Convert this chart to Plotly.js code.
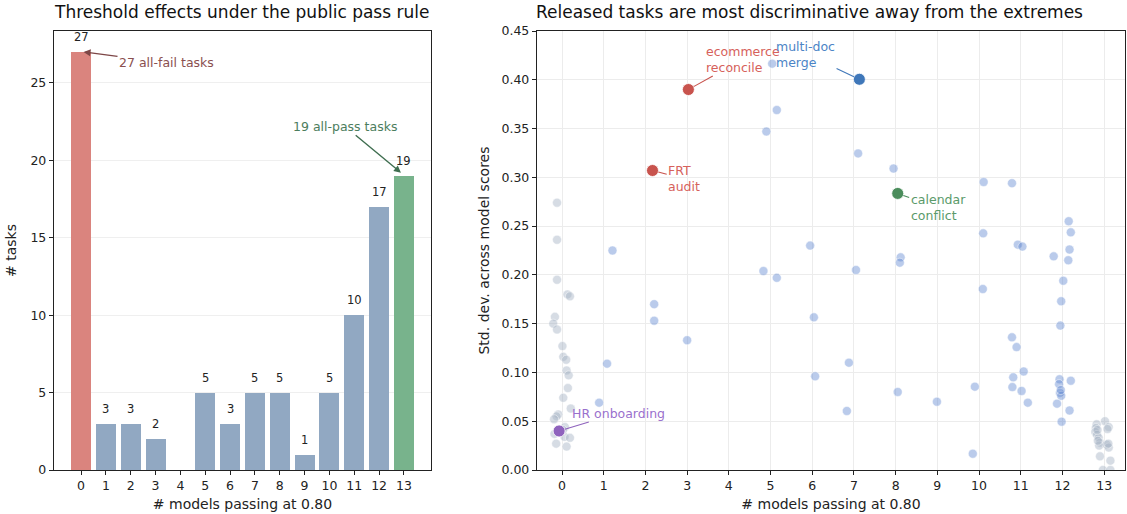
<!DOCTYPE html>
<html>
<head>
<meta charset="utf-8">
<script src="https://cdn.plot.ly/plotly-3.0.1.min.js"></script>
<style>
  html, body { margin: 0; padding: 0; background: #ffffff; }
  #chart { width: 1127px; height: 514px; }
</style>
</head>
<body>
<div id="chart"></div>
<script>
// ---------- Data ----------
const passCounts = [0, 1, 2, 3, 4, 5, 6, 7, 8, 9, 10, 11, 12, 13];
const taskCounts = [27, 3, 3, 2, 0, 5, 3, 5, 5, 1, 5, 10, 17, 19];

// all-fail tasks (x jittered around 0), excluding the highlighted one
const failX = [-0.12, -0.12, -0.12, 0.13, 0.19, -0.17, -0.21, -0.12, 0.01, 0.03, 0.10, 0.11, 0.16,
               0.14, 0.03, 0.21, -0.09, -0.13, -0.19, -0.18, 0.07, 0.06, 0.19, -0.14, 0.11, 0.02];
const failY = [0.274, 0.236, 0.195, 0.180, 0.178, 0.157, 0.150, 0.144, 0.127, 0.116, 0.113, 0.102, 0.097,
               0.084, 0.074, 0.063, 0.057, 0.055, 0.052, 0.037, 0.044, 0.034, 0.033, 0.027, 0.024, 0.041];

// all-pass tasks (x jittered around 13)
const passX = [13.02, 12.82, 12.80, 13.11, 13.08, 12.79, 12.83, 12.87, 12.90, 12.88, 13.06, 13.11,
               12.90, 13.15, 12.97, 13.15, 12.85, 13.10, 12.84];
const passY = [0.050, 0.047, 0.043, 0.044, 0.042, 0.039, 0.036, 0.033, 0.028, 0.025, 0.026, 0.023,
               0.014, 0.0096, 0.000, 0.000, 0.030, 0.027, 0.041];

// released (discriminative) tasks, excluding highlighted ones
const midX = [0.89, 1.08, 1.21,
              2.21, 2.21,
              3.00,
              4.83, 5.15, 5.04, 5.15, 4.90,
              6.04, 6.07, 5.95,
              7.10, 7.05, 6.88, 6.83,
              7.95, 8.12, 8.10, 8.05,
              8.99,
              10.11, 10.10, 10.09, 9.90, 9.85,
              10.79, 10.93, 11.04, 10.79, 10.90, 11.07, 10.82, 10.80, 11.02, 11.17,
              12.15, 12.20, 12.17, 11.79, 12.14, 12.02, 11.97, 11.95, 11.93, 11.92, 12.20, 11.94, 11.97, 11.96, 11.87, 12.17, 11.98];
const midY = [0.069, 0.109, 0.225,
              0.170, 0.153,
              0.133,
              0.204, 0.197, 0.4165, 0.369, 0.347,
              0.1565, 0.096, 0.230,
              0.3245, 0.205, 0.110, 0.0605,
              0.309, 0.218, 0.2125, 0.080,
              0.070,
              0.2952, 0.2426, 0.1855, 0.0854, 0.0167,
              0.294, 0.231, 0.229, 0.136, 0.126, 0.101, 0.095, 0.085, 0.081, 0.069,
              0.255, 0.2436, 0.226, 0.219, 0.215, 0.194, 0.173, 0.148, 0.093, 0.088, 0.0915, 0.079, 0.076, 0.082, 0.068, 0.061, 0.0495];

// highlighted tasks
const hlNames = ["ecommerce<br>reconcile", "multi-doc<br>merge", "FRT<br>audit", "calendar<br>conflict", "HR onboarding"];
const hlX = [3.03, 7.13, 2.17, 8.05, -0.07];
const hlY = [0.390, 0.4005, 0.307, 0.2835, 0.040];

// ---------- Styles ----------
const FONT = "DejaVu Sans, Verdana, sans-serif";
const barColors = taskCounts.map((v, i) => i === 0 ? "#da847e" : (i === 13 ? "#78b38c" : "#91a8c2"));
const hlMarker = ["#c8534d", "#3f77b9", "#c8534d", "#4b8d5c", "#8f63bd"];
const hlText   = ["#d6615b", "#4b84c6", "#d6615b", "#5a9a6a", "#9a70cd"];
const hlLabelPos = [[4.35, 0.4213], [5.84, 0.4264], [2.93, 0.2983], [9.02, 0.2686], [1.36, 0.0584]];

const traces = [
  {
    type: "bar", x: passCounts, y: taskCounts, width: 0.8,
    marker: { color: barColors, line: { width: 0 } },
    xaxis: "x", yaxis: "y", hoverinfo: "x+y", showlegend: false
  },
  {
    type: "scatter", mode: "markers", x: failX, y: failY, xaxis: "x2", yaxis: "y2",
    marker: { size: 9, color: "rgba(165,177,195,0.45)", line: { color: "rgba(255,255,255,0.8)", width: 0.6 } },
    showlegend: false
  },
  {
    type: "scatter", mode: "markers", x: passX, y: passY, xaxis: "x2", yaxis: "y2",
    marker: { size: 9, color: "rgba(165,177,195,0.45)", line: { color: "rgba(255,255,255,0.8)", width: 0.6 } },
    showlegend: false
  },
  {
    type: "scatter", mode: "markers", x: midX, y: midY, xaxis: "x2", yaxis: "y2",
    marker: { size: 9, color: "rgba(90,132,208,0.42)", line: { color: "rgba(255,255,255,0.8)", width: 0.6 } },
    showlegend: false
  },
  {
    type: "scatter", mode: "markers", x: hlX, y: hlY, xaxis: "x2", yaxis: "y2",
    marker: { size: 12, color: hlMarker, line: { color: "#ffffff", width: 0.8 } },
    showlegend: false
  }
];

const annotations = [];
// bar value labels
passCounts.forEach((c, i) => {
  if (taskCounts[i] > 0) {
    annotations.push({
      x: c, y: taskCounts[i], xref: "x", yref: "y", text: String(taskCounts[i]),
      showarrow: false, yanchor: "middle", yshift: 15,
      font: { family: FONT, size: 11.5, color: "#222" }
    });
  }
});
// left-panel callouts
annotations.push({
  x: 0.1, y: 27, xref: "x", yref: "y", ax: 3.44, ay: 26.3, axref: "x", ayref: "y",
  text: taskCounts[0] + " all-fail tasks", showarrow: true, arrowhead: 2, arrowsize: 1, arrowwidth: 1.4,
  arrowcolor: "#7d4646", standoff: 0, startstandoff: 0,
  font: { family: FONT, size: 12.5, color: "#8a4f4f" }
});
annotations.push({
  x: 12.88, y: 19.2, xref: "x", yref: "y", ax: 10.62, ay: 22.2, axref: "x", ayref: "y",
  text: taskCounts[13] + " all-pass tasks", showarrow: true, arrowhead: 2, arrowsize: 1, arrowwidth: 1.4,
  arrowcolor: "#3f6e50", standoff: 0,
  font: { family: FONT, size: 12.5, color: "#4c7d5d" }
});
// right-panel callouts
hlNames.forEach((n, i) => {
  annotations.push({
    x: hlX[i], y: hlY[i], xref: "x2", yref: "y2",
    ax: hlLabelPos[i][0], ay: hlLabelPos[i][1], axref: "x2", ayref: "y2",
    text: n, align: "left", showarrow: true, arrowhead: 0, arrowwidth: 1.1,
    arrowcolor: hlMarker[i], standoff: 6,
    font: { family: FONT, size: 12.5, color: hlText[i] }
  });
});
// panel titles
annotations.push({
  xref: "x domain", yref: "paper", x: 0.497, y: 1, yanchor: "bottom", yshift: 7, showarrow: false,
  text: "Threshold effects under the public pass rule", font: { family: FONT, size: 17, color: "#111" }
});
annotations.push({
  xref: "x2 domain", yref: "paper", x: 0.464, y: 1, yanchor: "bottom", yshift: 7, showarrow: false,
  text: "Released tasks are most discriminative away from the extremes", font: { family: FONT, size: 17, color: "#111" }
});

const axisCommon = {
  showline: true, linecolor: "#222", linewidth: 1.2, mirror: true,
  ticks: "outside", ticklen: 4, tickwidth: 1, tickcolor: "#222",
  tickfont: { family: FONT, size: 12.5, color: "#222" },
  zeroline: false
};

const layout = {
  width: 1127, height: 514,
  margin: { l: 0, r: 0, t: 31, b: 44 },
  paper_bgcolor: "#ffffff", plot_bgcolor: "#ffffff",
  font: { family: FONT, color: "#222" },
  showlegend: false,
  bargap: 0,
  xaxis: Object.assign({}, axisCommon, {
    domain: [54 / 1127, 431 / 1127], range: [-1.09, 14.09],
    tickmode: "array", tickvals: passCounts, ticktext: passCounts.map(String),
    showgrid: false,
    title: { text: "# models passing at 0.80", font: { family: FONT, size: 14, color: "#222" }, standoff: 7 }
  }),
  yaxis: Object.assign({}, axisCommon, {
    domain: [0, 1], range: [0, 28.35], anchor: "x",
    tickmode: "array", tickvals: [0, 5, 10, 15, 20, 25],
    showgrid: true, gridcolor: "#efefef", gridwidth: 1,
    title: { text: "# tasks", font: { family: FONT, size: 14, color: "#222" }, standoff: 10 }
  }),
  xaxis2: Object.assign({}, axisCommon, {
    domain: [537 / 1127, 1125 / 1127], range: [-0.6, 13.5], anchor: "y2",
    tickmode: "array", tickvals: passCounts, ticktext: passCounts.map(String),
    showgrid: true, gridcolor: "#ececec", gridwidth: 1,
    title: { text: "# models passing at 0.80", font: { family: FONT, size: 14, color: "#222" }, standoff: 7 }
  }),
  yaxis2: Object.assign({}, axisCommon, {
    domain: [0, 1], range: [0, 0.45], anchor: "x2",
    tickmode: "array", tickvals: [0, 0.05, 0.1, 0.15, 0.2, 0.25, 0.3, 0.35, 0.4, 0.45], tickformat: ".2f",
    showgrid: true, gridcolor: "#ececec", gridwidth: 1,
    title: { text: "Std. dev. across model scores", font: { family: FONT, size: 14, color: "#222" }, standoff: 8 }
  }),
  annotations: annotations
};

Plotly.newPlot("chart", traces, layout, { displayModeBar: false, staticPlot: true });
</script>
</body>
</html>
